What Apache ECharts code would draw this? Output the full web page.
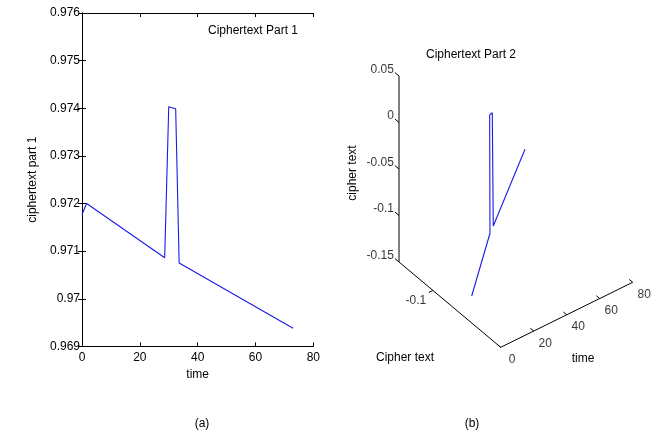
<!DOCTYPE html>
<html><head><meta charset="utf-8">
<script src="https://cdn.jsdelivr.net/npm/echarts@6/dist/echarts.min.js"></script>
<style>html,body{margin:0;padding:0;background:#fff}#c{width:664px;height:440px}</style>
</head><body><div id="c"></div>
<script>
// ---------- Panel (a) data ----------
const time1 = [0, 1.6, 28.6, 30.0, 32.4, 33.6, 73];
const part1 = [0.97177, 0.97200, 0.97086, 0.97403, 0.97399, 0.97075, 0.96938];
const xRange1 = [0, 80];
const yRange1 = [0.969, 0.976];

// ---------- Panel (b) data (3-D curve) ----------
const time2 = [0, 28.6, 29.8, 32.5, 33.5, 73];
const cipher2 = [-0.0428, -0.0854, -0.0888, -0.0915, -0.0925, -0.1418];
const value2 = [-0.1210, -0.1046, 0.0195, 0.0179, -0.1054, -0.0876];
const timeRange2 = [0, 80];
const cipherRange2 = [-0.15, 0];
const valueRange2 = [-0.15, 0.05];
const timeTicks2 = [0, 20, 40, 60, 80];
const cipherTicks2 = [-0.1];
const valueTicks2 = [0.05, 0, -0.05, -0.1, -0.15];

// ---------- 3-D view (projection onto panel b grid) ----------
const view = { ox: 170.7, oy: 347.3, tv: [1.65, -0.8125], cv: [678, 568.7], zv: [0, -930] };
function P(t, c, z) {
  const dz = z - valueRange2[0];
  return [view.ox + t * view.tv[0] + c * view.cv[0] + dz * view.zv[0],
          view.oy + t * view.tv[1] + c * view.cv[1] + dz * view.zv[1]];
}

const FONT = 'Liberation Sans';
const FS = 12;
const chart = echarts.init(document.getElementById('c'), null, { renderer: 'canvas' });

const tMin = timeRange2[0], tMax = timeRange2[1];
const cMin = cipherRange2[0], cMax = cipherRange2[1];
const zMin = valueRange2[0], zMax = valueRange2[1];

const boxLine = [P(tMin, cMin, zMax), P(tMin, cMin, zMin), P(tMin, cMax, zMin), P(tMax, cMax, zMin)];
const tickSegs = [];
valueTicks2.forEach(z => tickSegs.push({ coords: [P(tMin, cMin, z), P(tMin, cMin - 0.006, z)] }));
timeTicks2.forEach(t => tickSegs.push({ coords: [P(t, cMax, zMin), P(t, cMax - 0.005, zMin)] }));
cipherTicks2.forEach(c => tickSegs.push({ coords: [P(tMin, c, zMin), P(tMin - 2.5, c, zMin)] }));

const axisCommon = {
  axisLine: { show: true, lineStyle: { color: '#000', width: 1 } },
  axisTick: { show: true, inside: true, length: 4, lineStyle: { color: '#000' } },
  splitLine: { show: false }
};

function txt(x, y, s, rot) {
  return { type: 'text', x: x, y: y, rotation: rot || 0,
    style: { text: s, font: FS + 'px ' + FONT, fill: '#000', align: 'center', verticalAlign: 'middle' } };
}

const option = {
  backgroundColor: '#fff',
  animation: false,
  textStyle: { fontFamily: FONT },
  grid: [
    { left: 82, top: 13, width: 231.3, height: 333.4 },
    { left: 330, top: 0, width: 334, height: 440 }
  ],
  xAxis: [
    Object.assign({ gridIndex: 0, type: 'value', min: xRange1[0], max: xRange1[1], interval: 20,
      name: 'time', nameLocation: 'middle', nameGap: 19,
      nameTextStyle: { color: '#000', fontSize: FS, fontFamily: FONT },
      axisLabel: { color: '#000', fontSize: FS, fontFamily: FONT, margin: 5 } }, axisCommon),
    Object.assign({ gridIndex: 0, type: 'value', position: 'top', min: xRange1[0], max: xRange1[1], interval: 20,
      axisLabel: { show: false } }, axisCommon),
    { gridIndex: 1, type: 'value', min: 0, max: 334, show: false }
  ],
  yAxis: [
    Object.assign({ gridIndex: 0, type: 'value', min: yRange1[0], max: yRange1[1], interval: 0.001,
      name: 'ciphertext part 1', nameLocation: 'middle', nameGap: 43,
      nameTextStyle: { color: '#000', fontSize: FS, fontFamily: FONT },
      axisLabel: { color: '#000', fontSize: FS, fontFamily: FONT, margin: 2,
        formatter: v => String(parseFloat(v.toFixed(3))) } }, axisCommon),
    Object.assign({ gridIndex: 0, type: 'value', position: 'right', min: yRange1[0], max: yRange1[1], interval: 0.001,
      axisLabel: { show: false } }, axisCommon),
    { gridIndex: 1, type: 'value', min: 0, max: 440, inverse: true, show: false }
  ],
  graphic: [
    txt(253, 31, 'Ciphertext Part 1'),
    txt(471, 55, 'Ciphertext Part 2'),
    txt(353, 173, 'cipher text', Math.PI / 2),
    txt(405, 358, 'Cipher text'),
    txt(583, 359, 'time'),
    txt(202, 424, '(a)'),
    txt(472, 424, '(b)')
  ],
  series: [
    { type: 'line', xAxisIndex: 0, yAxisIndex: 0, symbol: 'none', silent: true,
      data: time1.map((t, i) => [t, part1[i]]),
      lineStyle: { color: '#1a1ae8', width: 1.1 } },
    { type: 'lines', coordinateSystem: 'cartesian2d', xAxisIndex: 2, yAxisIndex: 2, polyline: true, silent: true,
      data: [{ coords: boxLine }], lineStyle: { color: '#000', width: 1, opacity: 1 } },
    { type: 'lines', coordinateSystem: 'cartesian2d', xAxisIndex: 2, yAxisIndex: 2, silent: true,
      data: tickSegs, lineStyle: { color: '#000', width: 1, opacity: 1 } },
    { type: 'line', xAxisIndex: 2, yAxisIndex: 2, symbol: 'none', silent: true, clip: false,
      data: time2.map((t, i) => P(t, cipher2[i], value2[i])),
      lineStyle: { color: '#1a1ae8', width: 1.1 } },
    { type: 'scatter', xAxisIndex: 2, yAxisIndex: 2, symbolSize: 0, silent: true,
      data: valueTicks2.map(z => P(tMin, cMin - 0.006, z).concat([String(z)])),
      label: { show: true, position: 'left', distance: 1, offset: [0, -3], color: '#000', fontSize: FS, fontFamily: FONT,
        formatter: p => p.value[2] } },
    { type: 'scatter', xAxisIndex: 2, yAxisIndex: 2, symbolSize: 0, silent: true,
      data: timeTicks2.map(t => P(t, cMax, zMin).concat([String(t)])),
      label: { show: true, position: 'inside', offset: [11.5, 12.3], color: '#000', fontSize: FS, fontFamily: FONT,
        formatter: p => p.value[2] } },
    { type: 'scatter', xAxisIndex: 2, yAxisIndex: 2, symbolSize: 0, silent: true,
      data: cipherTicks2.map(c => P(tMin, c, zMin).concat([String(c)])),
      label: { show: true, position: 'inside', offset: [-17, 10.6], color: '#000', fontSize: FS, fontFamily: FONT,
        formatter: p => p.value[2] } }
  ]
};
chart.setOption(option);
</script>
</body></html>
